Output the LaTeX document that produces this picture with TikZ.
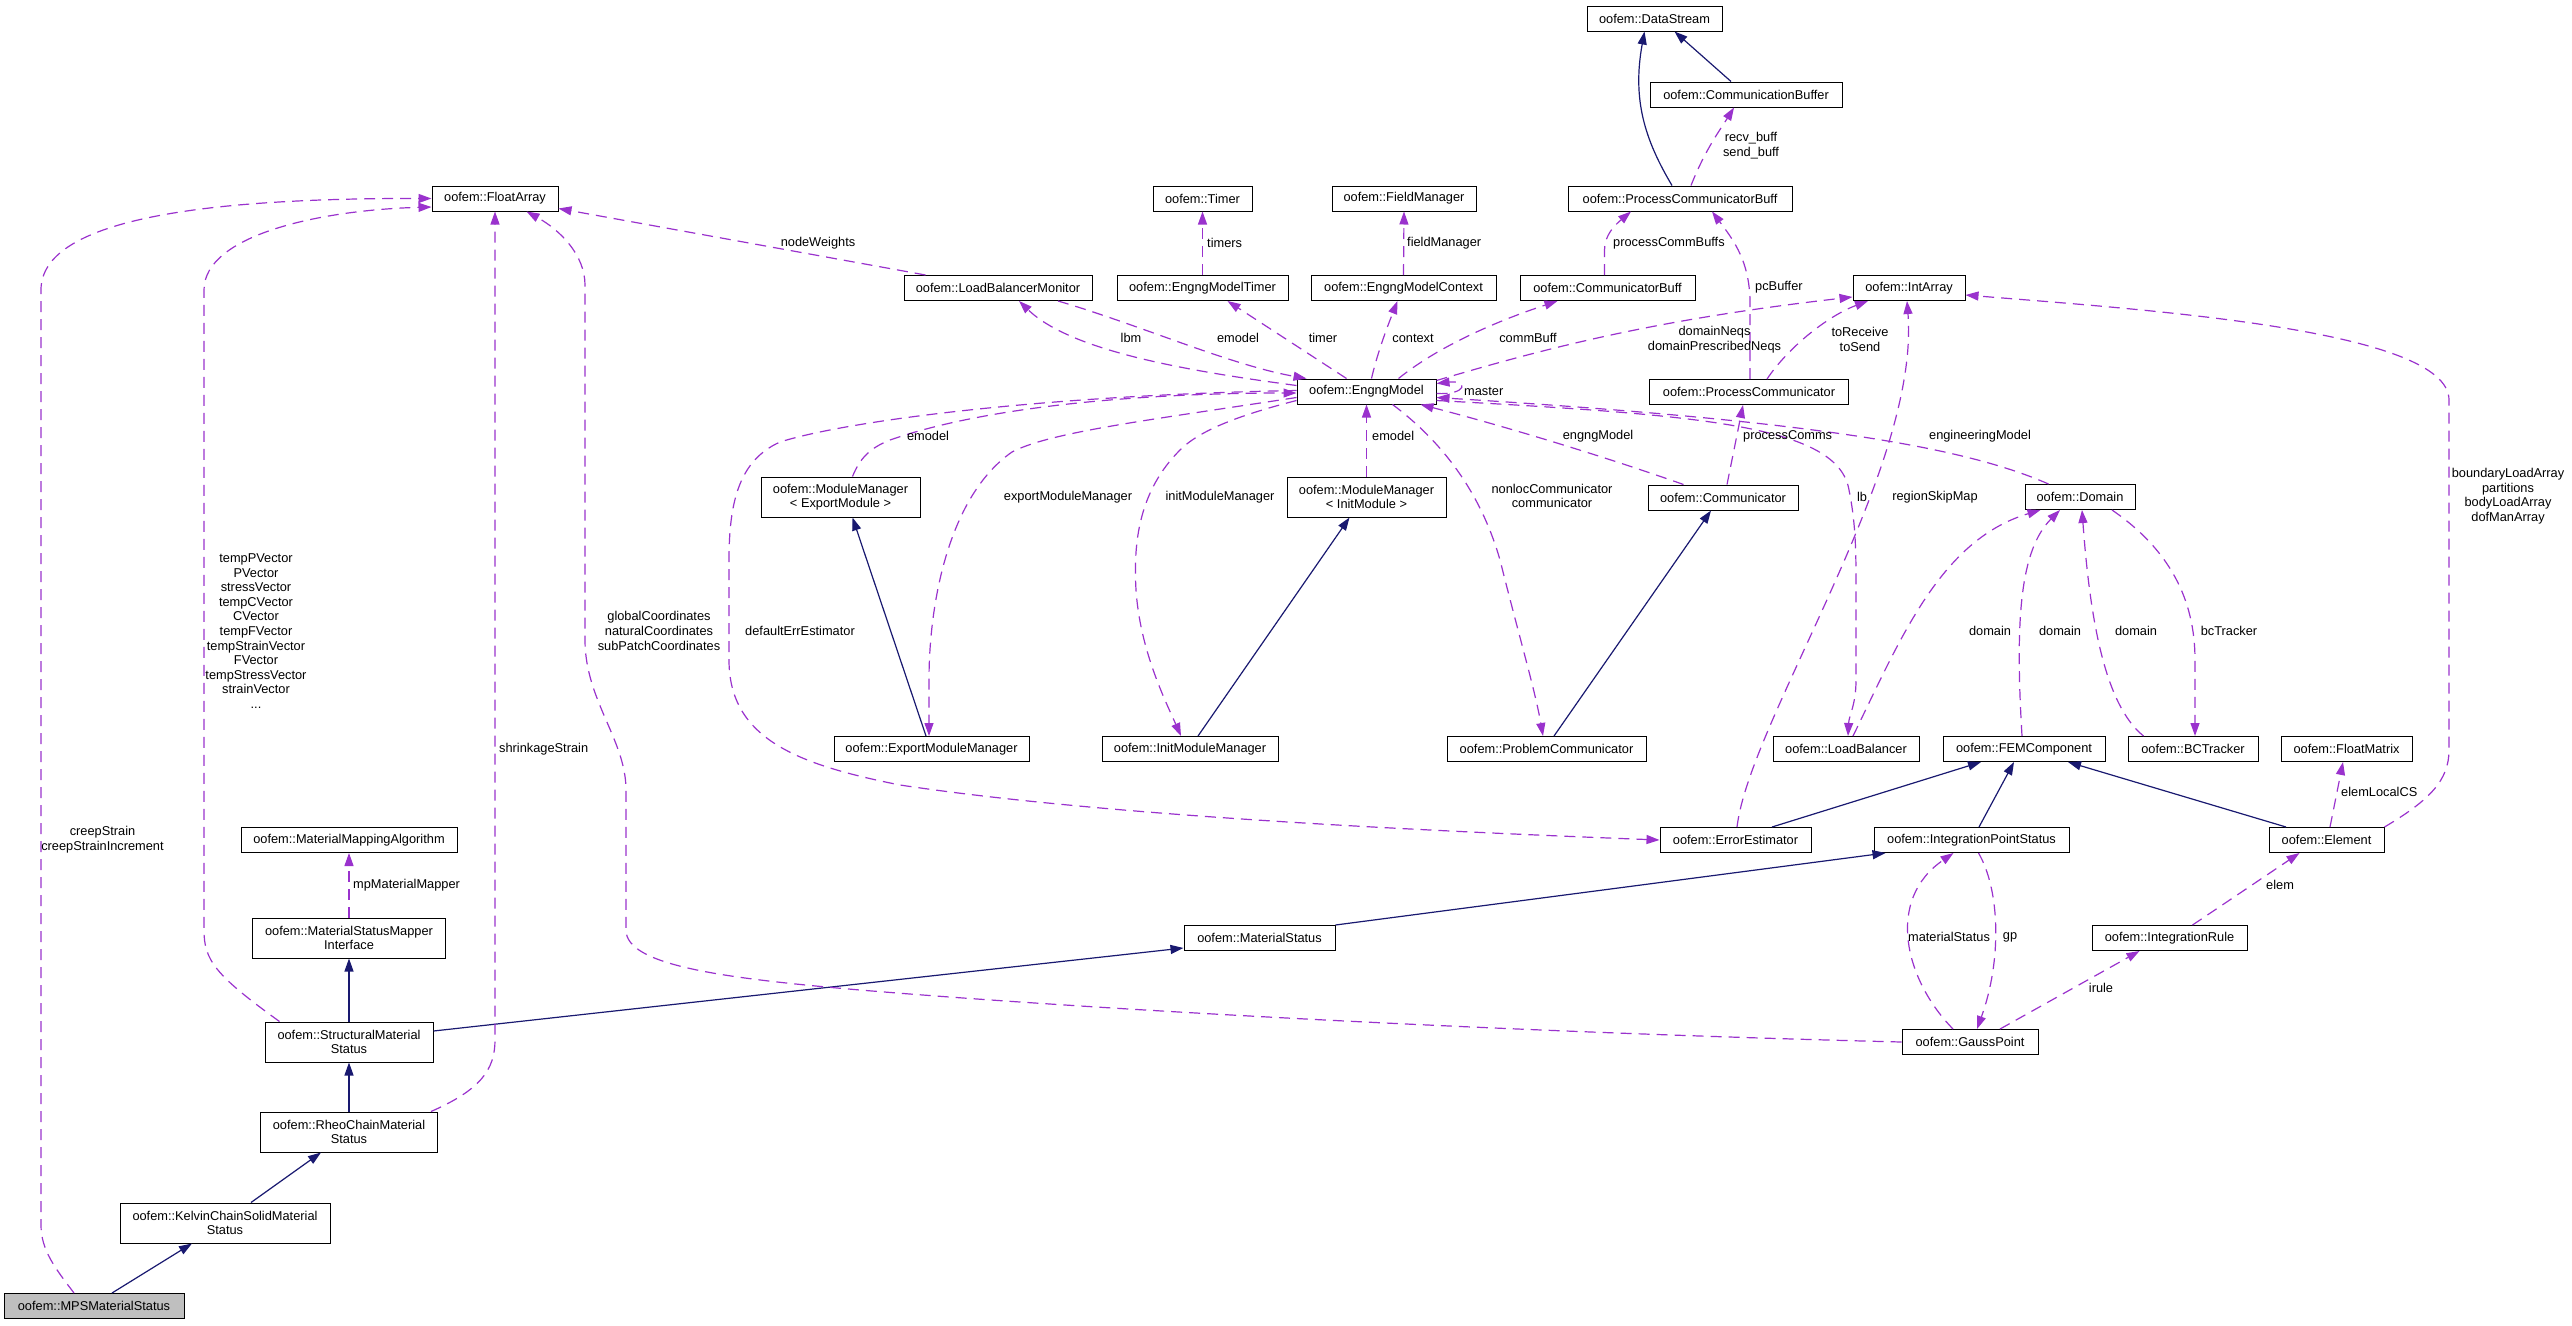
\documentclass[tikz,border=0pt]{standalone}
\usepackage{fontspec}
\setmainfont{Liberation Sans}
\usetikzlibrary{arrows.meta,calc}
\definecolor{cuse}{HTML}{9A32CD}
\definecolor{cinh}{HTML}{191970}
\newcommand{\dfont}{\fontsize{12.8}{14.6}\selectfont}
\tikzset{
  cls/.style={draw=black, line width=1pt, fill=white, inner sep=0pt, minimum height=25pt, align=center, font=\dfont},
  cls2/.style={cls, minimum height=40pt},
  lbl/.style={inner sep=0pt, align=center, font=\dfont},
  assoc/.style={cuse, line width=1.2pt, dash pattern=on 11pt off 7pt, -{Triangle[length=13pt,width=9pt]}},
  inh/.style={cinh, line width=1.2pt, -{Triangle[length=13pt,width=9pt]}},
}
\begin{document}
\begin{tikzpicture}[x=1pt,y=-1pt]
\useasboundingbox (0,0) rectangle (2572,1325);
% classes
\node[cls, minimum width=126pt] (floatArray) at (495,198.5) {oofem::FloatArray};
\node[cls, minimum width=135pt] (dataStream) at (1654.5,18.5) {oofem::DataStream};
\node[cls, minimum width=192pt] (commBuffer) at (1746,94.5) {oofem::CommunicationBuffer};
\node[cls, minimum width=99pt] (timer) at (1202.5,198.5) {oofem::Timer};
\node[cls, minimum width=144pt] (fieldMan) at (1404,198.5) {oofem::FieldManager};
\node[cls, minimum width=224pt] (procCommBuff) at (1680,198.5) {oofem::ProcessCommunicatorBuff};
\node[cls, minimum width=188pt] (lbMonitor) at (998,288) {oofem::LoadBalancerMonitor};
\node[cls, minimum width=171pt] (emTimer) at (1202.5,288) {oofem::EngngModelTimer};
\node[cls, minimum width=185pt] (emContext) at (1403.5,288) {oofem::EngngModelContext};
\node[cls, minimum width=175pt] (commBuff) at (1607.5,288) {oofem::CommunicatorBuff};
\node[cls, minimum width=112pt] (intArray) at (1909,288) {oofem::IntArray};
\node[cls, minimum width=139pt] (engngModel) at (1366.5,391.5) {oofem::EngngModel};
\node[cls, minimum width=199pt] (procComm) at (1749,392) {oofem::ProcessCommunicator};
\node[cls2, minimum width=159pt] (mmExport) at (840.5,497) {oofem::ModuleManager\\< ExportModule >};
\node[cls2, minimum width=159pt] (mmInit) at (1366.5,497) {oofem::ModuleManager\\< InitModule >};
\node[cls, minimum width=150pt] (communicator) at (1723,497.5) {oofem::Communicator};
\node[cls, minimum width=110pt] (domain) at (2080,497) {oofem::Domain};
\node[cls, minimum width=195pt] (exportMM) at (931.5,749) {oofem::ExportModuleManager};
\node[cls, minimum width=176pt] (initMM) at (1190,749) {oofem::InitModuleManager};
\node[cls, minimum width=199pt] (problemComm) at (1546.5,749) {oofem::ProblemCommunicator};
\node[cls, minimum width=146pt] (loadBal) at (1846,749) {oofem::LoadBalancer};
\node[cls, minimum width=162pt] (femComp) at (2024,749) {oofem::FEMComponent};
\node[cls, minimum width=130pt] (bcTracker) at (2193,749) {oofem::BCTracker};
\node[cls, minimum width=131pt] (floatMatrix) at (2346.5,749) {oofem::FloatMatrix};
\node[cls, minimum width=216pt] (mapAlgo) at (349,840) {oofem::MaterialMappingAlgorithm};
\node[cls, minimum width=151pt] (errEst) at (1735.5,840) {oofem::ErrorEstimator};
\node[cls, minimum width=195pt] (ipStatus) at (1971.5,840) {oofem::IntegrationPointStatus};
\node[cls, minimum width=115pt] (element) at (2326.5,840) {oofem::Element};
\node[cls2, minimum width=193pt] (mapperIf) at (349,938) {oofem::MaterialStatusMapper\\Interface};
\node[cls, minimum width=151pt] (matStatus) at (1259.5,938) {oofem::MaterialStatus};
\node[cls, minimum width=155pt] (intRule) at (2169.5,938) {oofem::IntegrationRule};
\node[cls2, minimum width=168pt] (structStatus) at (349,1042) {oofem::StructuralMaterial\\Status};
\node[cls, minimum width=136pt] (gaussPt) at (1970,1042) {oofem::GaussPoint};
\node[cls2, minimum width=177pt] (rheoStatus) at (349,1132) {oofem::RheoChainMaterial\\Status};
\node[cls2, minimum width=210pt] (kelvinStatus) at (225,1223) {oofem::KelvinChainSolidMaterial\\Status};
\node[cls, minimum width=180pt, fill=black!25] (mpsStatus) at (94,1306) {oofem::MPSMaterialStatus};
% inheritance
\draw[inh] ($(procCommBuff.north)+(-8,0)$) .. controls (1645,140) and (1632,100) .. ($(dataStream.south)+(-10,0)$);
\draw[inh] ($(commBuffer.north)+(-15,0)$) -- ($(dataStream.south)+(20,0)$);
\draw[inh] ($(exportMM.north)+(-5.5,0)$) -- ($(mmExport.south)+(12,0)$);
\draw[inh] ($(initMM.north)+(8,0)$) -- ($(mmInit.south)+(-17,0)$);
\draw[inh] ($(problemComm.north)+(7.5,0)$) -- ($(communicator.south)+(-12,0)$);
\draw[inh] ($(errEst.north)+(36.5,0)$) -- ($(femComp.south)+(-43,0)$);
\draw[inh] ($(ipStatus.north)+(7.5,0)$) -- ($(femComp.south)+(-10,0)$);
\draw[inh] ($(element.north)+(-40.5,0)$) -- ($(femComp.south)+(44,0)$);
\draw[inh] (matStatus.north east) -- ($(ipStatus.south west)+(12,0)$);
\draw[inh] ($(structStatus.east)+(0,-11)$) -- ($(matStatus.west)+(0,10)$);
\draw[inh] (structStatus.north) -- (mapperIf.south);
\draw[inh] (rheoStatus.north) -- (structStatus.south);
\draw[inh] ($(kelvinStatus.north)+(26,0)$) -- ($(rheoStatus.south)+(-28,0)$);
\draw[inh] ($(mpsStatus.north)+(18,0)$) -- ($(kelvinStatus.south)+(-33,0)$);
% usage
\draw[assoc] ($(mpsStatus.north)+(-20,0)$) .. controls (55,1268) and (41,1250) .. (41,1225) -- (41,290) .. controls (41,220) and (200,198) .. (floatArray.west);
\draw[assoc] ($(structStatus.north west)+(15,0)$) .. controls (215,975) and (204,960) .. (204,930) -- (204,290) .. controls (204,235) and (320,210) .. ($(floatArray.west)+(0,8.5)$);
\draw[assoc] ($(rheoStatus.north east)+(-7,0)$) .. controls (480,1090) and (495,1070) .. (495,1040) -- (floatArray.south);
\draw[assoc] (gaussPt.west) .. controls (1500,1032) and (1100,1010) .. (860,990) .. controls (720,978) and (626,965) .. (626,930) -- (626,790) .. controls (626,740) and (585,700) .. (585,640) -- (585,285) .. controls (585,255) and (560,230) .. ($(floatArray.south east)+(-32,0)$);
\draw[assoc] ($(lbMonitor.north west)+(22,0)$) -- ($(floatArray.east)+(0,10)$);
\draw[assoc] (mapperIf.north) -- (mapAlgo.south);
\draw[assoc] ($(engngModel.west)+(0,-6)$) .. controls (1180,370) and (1070,350) .. ($(lbMonitor.south)+(21,0)$);
\draw[assoc] ($(lbMonitor.south)+(60,0)$) .. controls (1140,325) and (1230,365) .. ($(engngModel.north west)+(10,0)$);
\draw[assoc] ($(engngModel.north)+(-20,0)$) -- ($(emTimer.south)+(25,0)$);
\draw[assoc] (emTimer.north) -- (timer.south);
\draw[assoc] ($(engngModel.north)+(5,0)$) .. controls (1378,350) and (1390,320) .. ($(emContext.south)+(-6,0)$);
\draw[assoc] (emContext.north) -- (fieldMan.south);
\draw[assoc] ($(engngModel.north)+(32,0)$) .. controls (1440,345) and (1500,320) .. ($(commBuff.south)+(-50,0)$);
\draw[assoc] ($(commBuff.north)+(-3,0)$) -- (1604.5,250) .. controls (1604.5,235) and (1615,225) .. ($(procCommBuff.south)+(-49,0)$);
\draw[assoc] ($(procCommBuff.north)+(11,0)$) .. controls (1705,150) and (1720,130) .. ($(commBuffer.south)+(-12,0)$);
\draw[assoc] ($(procComm.north)+(1,0)$) -- (1750,300) .. controls (1749,262) and (1735,242) .. ($(procCommBuff.south)+(32,0)$);
\draw[assoc] ($(engngModel.north east)+(0,2)$) .. controls (1540,350) and (1650,320) .. ($(intArray.west)+(0,9)$);
\draw[assoc] ($(procComm.north)+(18,0)$) .. controls (1790,345) and (1830,315) .. ($(intArray.south)+(-41,0)$);
\draw[assoc] ($(engngModel.east)+(0,2)$) .. controls (1468,395) and (1468,380) .. ($(engngModel.east)+(0,-8)$);
\draw[assoc] ($(communicator.north)+(4,0)$) -- ($(procComm.south)+(-6,0)$);
\draw[assoc] ($(communicator.north west)+(36,0)$) .. controls (1600,455) and (1500,425) .. ($(engngModel.south east)+(-16,0)$);
\draw[assoc] ($(domain.north west)+(24,0)$) .. controls (1960,445) and (1800,420) .. ($(engngModel.east)+(0,6)$);
\draw[assoc] ($(engngModel.east)+(0,9)$) .. controls (1700,415) and (1838,425) .. (1849,490) .. controls (1855,520) and (1856,545) .. (1856,580) -- (1856,680) .. controls (1856,705) and (1849,715) .. ($(loadBal.north)+(2,0)$);
\draw[assoc] ($(errEst.north)+(1.5,0)$) .. controls (1750,720) and (1920,470) .. ($(intArray.south)+(-2,0)$);
\draw[assoc] ($(loadBal.north)+(7,0)$) .. controls (1900,640) and (1940,540) .. ($(domain.south west)+(16,0)$);
\draw[assoc] ($(femComp.north)+(-2,0)$) .. controls (2015,620) and (2020,550) .. ($(domain.south)+(-20,0)$);
\draw[assoc] ($(bcTracker.north west)+(16,0)$) .. controls (2105,705) and (2090,620) .. ($(domain.south)+(2,0)$);
\draw[assoc] ($(domain.south)+(32,0)$) .. controls (2170,550) and (2195,600) .. (2195,660) -- ($(bcTracker.north)+(2,0)$);
\draw[assoc] ($(element.north)+(3.5,0)$) -- ($(floatMatrix.south)+(-3.5,0)$);
\draw[assoc] (element.north east) .. controls (2430,800) and (2449,780) .. (2449,750) -- (2449,400) .. controls (2449,330) and (2150,310) .. ($(intArray.east)+(0,7)$);
\draw[assoc] ($(intRule.north)+(23,0)$) -- ($(element.south)+(-27,0)$);
\draw[assoc] ($(gaussPt.north)+(30,0)$) -- ($(intRule.south)+(-30,0)$);
\draw[assoc] ($(gaussPt.north)+(-17,0)$) .. controls (1905,980) and (1885,900) .. ($(ipStatus.south)+(-18,0)$);
\draw[assoc] ($(ipStatus.south)+(7,0)$) .. controls (2000,890) and (2002,960) .. ($(gaussPt.north)+(7,0)$);
\draw[assoc] ($(engngModel.west)+(0,-1)$) .. controls (1050,395) and (850,420) .. (780,442) .. controls (740,460) and (729,500) .. (729,560) -- (729,660) .. controls (729,740) and (800,765) .. (900,785) .. controls (1100,815) and (1400,830) .. (errEst.west);
\draw[assoc] ($(mmExport.north)+(12,0)$) .. controls (860,458) and (870,448) .. (890,440) .. controls (990,405) and (1150,393) .. ($(engngModel.west)+(0,1.5)$);
\draw[assoc] ($(engngModel.west)+(0,6)$) .. controls (1150,420) and (1050,432) .. (1012,452) .. controls (950,495) and (929,600) .. (929,680) -- ($(exportMM.north)+(-2.5,0)$);
\draw[assoc] ($(engngModel.south west)+(0,-4)$) .. controls (1240,415) and (1200,430) .. (1180,450) .. controls (1140,490) and (1133,540) .. (1136,590) .. controls (1140,650) and (1165,700) .. ($(initMM.north)+(-9,0)$);
\draw[assoc] (mmInit.north) -- (engngModel.south);
\draw[assoc] ($(engngModel.south)+(26,0)$) .. controls (1440,440) and (1480,490) .. (1500,560) .. controls (1520,640) and (1535,690) .. ($(problemComm.north)+(-3.5,0)$);
% labels
\node[lbl] (lCreep) at (102.5,839.5) {creepStrain\\creepStrainIncrement};
\node[lbl] (lStrain) at (256,631) {tempPVector\\PVector\\stressVector\\tempCVector\\CVector\\tempFVector\\tempStrainVector\\FVector\\tempStressVector\\strainVector\\...};
\node[lbl, anchor=west] (lShrink) at (499,749) {shrinkageStrain};
\node[lbl] (lCoords) at (659,631) {globalCoordinates\\naturalCoordinates\\subPatchCoordinates};
\node[lbl] (lNodeW) at (818,243) {nodeWeights};
\node[lbl, anchor=west] (lMapper) at (353,885) {mpMaterialMapper};
\node[lbl] (lLbm) at (1131,338) {lbm};
\node[lbl] (lEmodelA) at (1238,338) {emodel};
\node[lbl] (lTimer) at (1323,338) {timer};
\node[lbl, anchor=west] (lTimers) at (1207,243) {timers};
\node[lbl] (lContext) at (1413,338) {context};
\node[lbl, anchor=west] (lFieldMan) at (1407,243) {fieldManager};
\node[lbl] (lCommBuff) at (1528,338) {commBuff};
\node[lbl, anchor=west] (lPcBuffs) at (1613,243) {processCommBuffs};
\node[lbl] (lBuff) at (1751,145.5) {recv\_buff\\send\_buff};
\node[lbl, anchor=west] (lPcBuffer) at (1755,287) {pcBuffer};
\node[lbl] (lNeqs) at (1714.5,339.5) {domainNeqs\\domainPrescribedNeqs};
\node[lbl] (lSend) at (1860,339.5) {toReceive\\toSend};
\node[lbl, anchor=west] (lMaster) at (1464,391) {master};
\node[lbl, anchor=west] (lPComms) at (1743,436) {processComms};
\node[lbl] (lEngng) at (1598,436) {engngModel};
\node[lbl] (lEngineering) at (1980,436) {engineeringModel};
\node[lbl] (lLb) at (1862,497) {lb};
\node[lbl] (lRegion) at (1935,497) {regionSkipMap};
\node[lbl] (lDomA) at (1990,631) {domain};
\node[lbl] (lDomB) at (2060,631) {domain};
\node[lbl] (lDomC) at (2136,631) {domain};
\node[lbl] (lBcTr) at (2229,631) {bcTracker};
\node[lbl, anchor=west] (lLocalCS) at (2341,792) {elemLocalCS};
\node[lbl] (lArrays) at (2508,496) {boundaryLoadArray\\partitions\\bodyLoadArray\\dofManArray};
\node[lbl, anchor=west] (lElem) at (2266,885) {elem};
\node[lbl] (lIrule) at (2101,988) {irule};
\node[lbl] (lMatStat) at (1949,937) {materialStatus};
\node[lbl] (lGp) at (2010,937) {gp};
\node[lbl] (lDefErr) at (800,631) {defaultErrEstimator};
\node[lbl] (lEmodelB) at (928,436) {emodel};
\node[lbl] (lExpMM) at (1068,497) {exportModuleManager};
\node[lbl] (lInitMM) at (1220,497) {initModuleManager};
\node[lbl, anchor=west] (lEmodelC) at (1372,436) {emodel};
\node[lbl] (lNonloc) at (1552,496) {nonlocCommunicator\\communicator};
\end{tikzpicture}
\end{document}
